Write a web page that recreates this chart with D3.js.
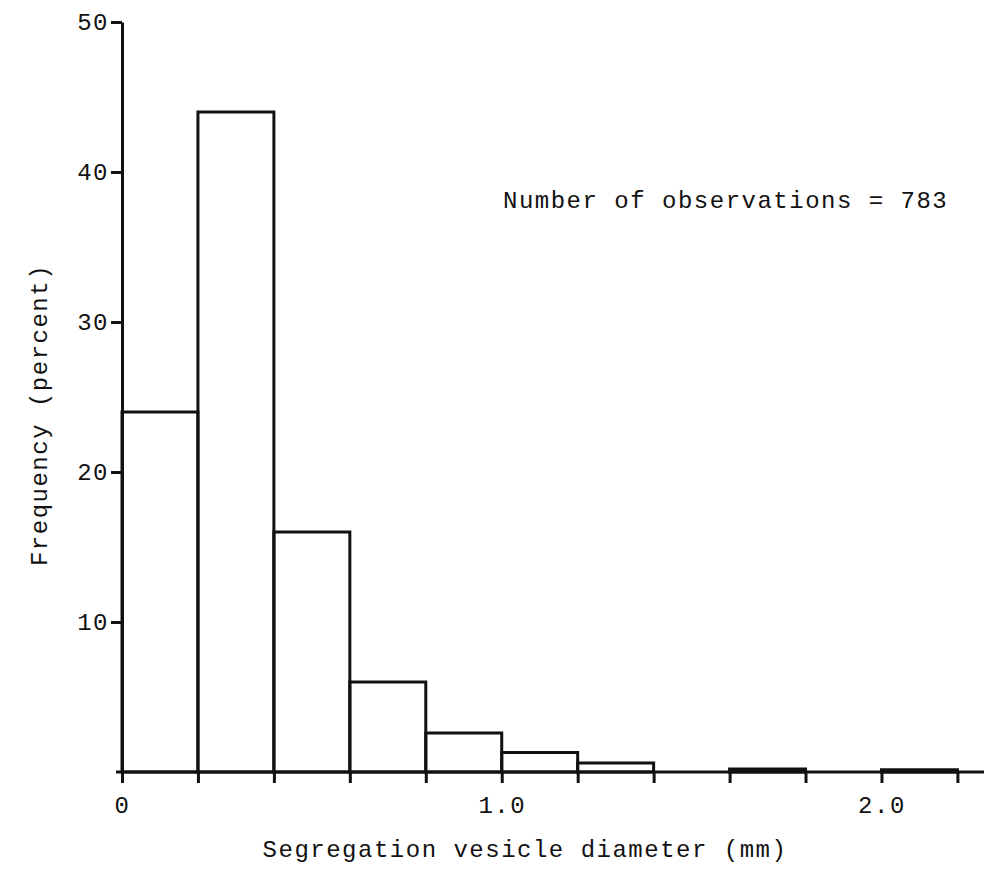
<!DOCTYPE html>
<html>
<head>
<meta charset="utf-8">
<script src="https://cdn.jsdelivr.net/npm/d3@7"></script>
<style>
  body { margin: 0; background: #fff; }
  text { font-family: "Liberation Mono", "DejaVu Sans Mono", monospace; font-size: 24px; letter-spacing: 1.5px; fill: #111; }
</style>
</head>
<body>
<div id="chart"></div>
<script>
// histogram bins (mm) and frequency (percent)
var binStart = [0.0, 0.2, 0.4, 0.6, 0.8, 1.0, 1.2, 1.4, 1.6, 1.8, 2.0];
var binEnd   = [0.2, 0.4, 0.6, 0.8, 1.0, 1.2, 1.4, 1.6, 1.8, 2.0, 2.2];
var freq     = [24, 44, 16, 6, 2.6, 1.3, 0.6, 0, 0.2, 0, 0.15];
var xTicks = [0, 0.2, 0.4, 0.6, 0.8, 1.0, 1.2, 1.4, 1.6, 1.8, 2.0, 2.2];
var xTickLabels = {"0": "0", "1": "1.0", "2": "2.0"};
var yTicks = [10, 20, 30, 40, 50];

var initializeChart = function(){
    var width = 984, height = 871;
    var svg = d3.select("#chart").append("svg")
                .attr("width", width).attr("height", height);

    var x = d3.scaleLinear().domain([0, 2.27]).range([122, 984]);
    var y = d3.scaleLinear().domain([0, 50]).range([772, 22]);

    // bars
    svg.append("g").selectAll("rect")
       .data(freq.map(function(f, i){ return {x0: binStart[i], x1: binEnd[i], f: f}; })
                 .filter(function(d){ return d.f > 0; }))
       .enter().append("rect")
       .attr("x", function(d){ return x(d.x0); })
       .attr("y", function(d){ return y(d.f); })
       .attr("width", function(d){ return x(d.x1) - x(d.x0); })
       .attr("height", function(d){ return y(0) - y(d.f); })
       .attr("fill", "none")
       .attr("stroke", "#111")
       .attr("stroke-width", 3);

    var xAxis = d3.axisBottom(x).tickValues(xTicks).tickSize(11).tickSizeOuter(0).tickPadding(13)
                  .tickFormat(function(d){ var k = String(Math.round(d * 100) / 100); return xTickLabels[k] || ""; });
    var gx = svg.append("g").attr("transform", "translate(0," + y(0) + ")").call(xAxis);

    var yAxis = d3.axisLeft(y).tickValues(yTicks).tickSize(11).tickSizeOuter(0).tickPadding(2);
    var gy = svg.append("g").attr("transform", "translate(" + x(0) + ",0)").call(yAxis);

    [gx, gy].forEach(function(g){
        g.selectAll("path, line").attr("stroke", "#111").attr("stroke-width", 3);
        g.selectAll("text").style("font-size", "24px").attr("fill", "#111");
    });
    gx.select(".domain").attr("d", "M116,0H984");

    svg.append("text").attr("x", 503).attr("y", 208)
       .text("Number of observations = 783");

    svg.append("text").attr("text-anchor", "middle")
       .attr("x", 525).attr("y", 857)
       .text("Segregation vesicle diameter (mm)");

    svg.append("text").attr("text-anchor", "middle")
       .attr("transform", "translate(47,415) rotate(-90)")
       .text("Frequency (percent)");
};

initializeChart();
</script>
</body>
</html>
